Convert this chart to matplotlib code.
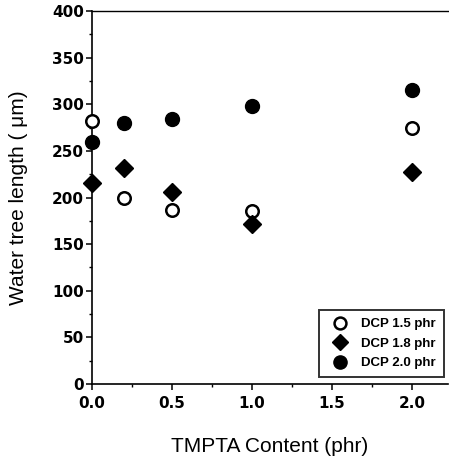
import matplotlib
matplotlib.use("Agg")
import matplotlib.pyplot as plt
from matplotlib.ticker import MultipleLocator, FormatStrFormatter

plt.rcParams['font.family'] = ['Liberation Sans', 'DejaVu Sans']

# TMPTA content (phr)
tmpta = [0.0, 0.2, 0.5, 1.0, 2.0]
# water tree length (um) for each DCP loading
dcp15 = [282, 200, 187, 185, 275]
dcp18 = [216, 232, 206, 172, 227]
dcp20 = [260, 280, 284, 298, 315]
labels = ['DCP 1.5 phr', 'DCP 1.8 phr', 'DCP 2.0 phr']

fig = plt.figure(figsize=(4.49, 4.62), dpi=100)
ax = fig.add_axes([0.205, 0.169, 0.793, 0.807])

ax.plot(tmpta, dcp15, 'o', ms=9, mfc='white', mec='black', mew=1.8, label=labels[0], clip_on=False, zorder=3)
ax.plot(tmpta, dcp18, 'D', ms=9, color='black', label=labels[1], clip_on=False, zorder=3)
ax.plot(tmpta, dcp20, 'o', ms=10, color='black', label=labels[2], clip_on=False, zorder=3)

ax.set_xlim(0, 2.225)
ax.set_ylim(0, 400)
ax.xaxis.set_major_locator(MultipleLocator(0.5))
ax.xaxis.set_minor_locator(MultipleLocator(0.25))
ax.yaxis.set_major_locator(MultipleLocator(50))
ax.yaxis.set_minor_locator(MultipleLocator(25))
ax.xaxis.set_major_formatter(FormatStrFormatter('%.1f'))

ax.spines['right'].set_visible(False)
for s in ['left', 'bottom']:
    ax.spines[s].set_linewidth(1.2)
ax.spines['top'].set_linewidth(1.0)

ax.tick_params(axis='both', which='major', direction='out', length=4, width=1.1)
ax.tick_params(axis='both', which='minor', direction='out', length=2.5, width=1)
ax.tick_params(axis='x', which='major', pad=5)
ax.tick_params(axis='y', which='major', pad=2)
for lab in ax.get_xticklabels() + ax.get_yticklabels():
    lab.set_family('DejaVu Sans')
    lab.set_fontweight('bold')
    lab.set_fontsize(11)

ax.set_xlabel('TMPTA Content (phr)', fontsize=15, va='top')
ax.xaxis.set_label_coords(0.5, -0.143)
ax.set_ylabel('Water tree length ( \u03bcm)', fontsize=15)
ax.yaxis.set_label_coords(-0.18, 0.5)

leg = ax.legend(loc='lower right', bbox_to_anchor=(0.988, 0.018), fontsize=9.5,
                frameon=True, fancybox=False, edgecolor='black', handlelength=2.0,
                handletextpad=0.6, borderpad=0.6, labelspacing=0.55,
                borderaxespad=0.0, markerscale=0.95)
leg.get_frame().set_linewidth(1.4)
for t in leg.get_texts():
    t.set_fontweight('bold')

fig.savefig('out.png', dpi=100)
